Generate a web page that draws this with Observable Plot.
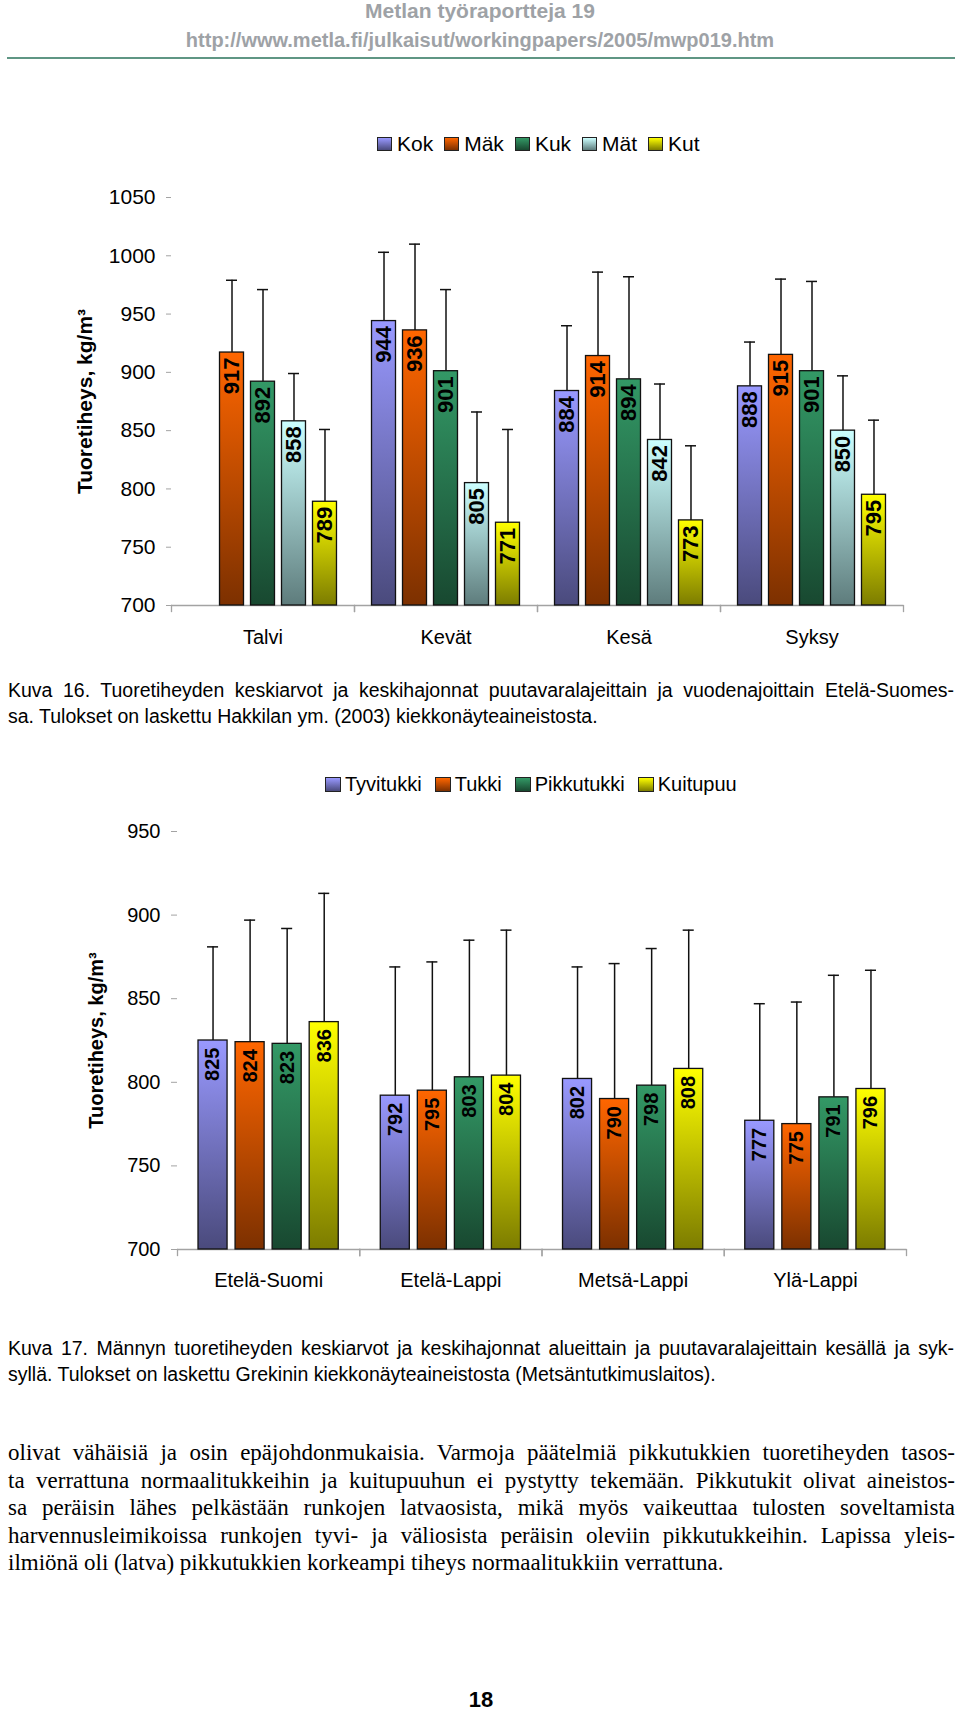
<!DOCTYPE html>
<html>
<head>
<meta charset="utf-8">
<script src="https://cdn.jsdelivr.net/npm/d3@7"></script>
<script src="https://cdn.jsdelivr.net/npm/@observablehq/plot@0.6"></script>
<style>
html, body { margin: 0; padding: 0; background: #fff; }
#page { position: relative; width: 960px; height: 1714px; overflow: hidden; font-family: "Liberation Sans", Arial, sans-serif; color: #000; }
.hdr { left: 0; width: 960px; text-align: center; font-weight: bold; color: #9ea2a6; white-space: nowrap; }
.legend { display: flex; align-items: center; white-space: nowrap; }
.legend .item { display: flex; align-items: center; }
.legend .sw { display: inline-block; border: 1px solid #222; box-sizing: border-box; }
.just { text-align: justify; text-align-last: justify; }
.left { text-align: left; }
</style>
</head>
<body>
<div id="page"></div>
<script>
// ---------- data ----------
const seasons = ["Talvi", "Kevät", "Kesä", "Syksy"];
const assortments1 = ["Kok", "Mäk", "Kuk", "Mät", "Kut"];
const kokMean = [null, 944, 884, 888];
const makMean = [917, 936, 914, 915];
const kukMean = [892, 901, 894, 901];
const matMean = [858, 805, 842, 850];
const kutMean = [789, 771, 773, 795];
const kokSd = [null, 59, 56, 38];
const makSd = [62, 74, 72, 65];
const kukSd = [79, 70, 88, 77];
const matSd = [41, 61, 48, 47];
const kutSd = [62, 80, 64, 64];
const yTicks1 = [700, 750, 800, 850, 900, 950, 1000, 1050];

const regions = ["Etelä-Suomi", "Etelä-Lappi", "Metsä-Lappi", "Ylä-Lappi"];
const assortments2 = ["Tyvitukki", "Tukki", "Pikkutukki", "Kuitupuu"];
const tyviMean = [825, 792, 802, 777];
const tukkiMean = [824, 795, 790, 775];
const pikkuMean = [823, 803, 798, 791];
const kuituMean = [836, 804, 808, 796];
const tyviSd = [56, 77, 67, 70];
const tukkiSd = [73, 77, 81, 73];
const pikkuSd = [69, 82, 82, 73];
const kuituSd = [77, 87, 83, 71];
const yTicks2 = [700, 750, 800, 850, 900, 950];

const yLabel = "Tuoretiheys, kg/m³";

// gradient colours (top -> bottom) for blue, orange, green, cyan, yellow
const gradTop = ["#9999ff", "#ff6600", "#339966", "#ccffff", "#ffff00"];
const gradBottom = ["#4a4a7c", "#7c3000", "#184830", "#5e7c7c", "#7c7c00"];
const colorIdx1 = [0, 1, 2, 3, 4];
const colorIdx2 = [0, 1, 2, 4];

// texts
const titleText = "Metlan työraportteja 19";
const urlText = "http://www.metla.fi/julkaisut/workingpapers/2005/mwp019.htm";
const caption16 = [
  "Kuva 16. Tuoretiheyden keskiarvot ja keskihajonnat puutavaralajeittain ja vuodenajoittain Etelä-Suomes-",
  "sa. Tulokset on laskettu Hakkilan ym. (2003) kiekkonäyteaineistosta."
];
const caption17 = [
  "Kuva 17. Männyn tuoretiheyden keskiarvot ja keskihajonnat alueittain ja puutavaralajeittain kesällä ja syk-",
  "syllä. Tulokset on laskettu Grekinin kiekkonäyteaineistosta (Metsäntutkimuslaitos)."
];
const bodyLines = [
  "olivat vähäisiä ja osin epäjohdonmukaisia. Varmoja päätelmiä pikkutukkien tuoretiheyden tasos-",
  "ta verrattuna normaalitukkeihin ja kuitupuuhun ei pystytty tekemään. Pikkutukit olivat aineistos-",
  "sa peräisin lähes pelkästään runkojen latvaosista, mikä myös vaikeuttaa tulosten soveltamista",
  "harvennusleimikoissa runkojen tyvi- ja väliosista peräisin oleviin pikkutukkeihin. Lapissa yleis-",
  "ilmiönä oli (latva) pikkutukkien korkeampi tiheys normaalitukkiin verrattuna."
];
const pageNumber = "18";

// ---------- tables ----------
function buildTable(groups, names, means, sds) {
  const rows = [];
  names.forEach((s, i) => {
    groups.forEach((g, j) => {
      if (means[i][j] != null) rows.push({group: g, series: s, mean: means[i][j], sd: sds[i][j]});
    });
  });
  return rows;
}
const data1 = buildTable(seasons, assortments1,
  [kokMean, makMean, kukMean, matMean, kutMean], [kokSd, makSd, kukSd, matSd, kutSd]);
const data2 = buildTable(regions, assortments2,
  [tyviMean, tukkiMean, pikkuMean, kuituMean], [tyviSd, tukkiSd, pikkuSd, kuituSd]);

// ---------- gradient defs ----------
const NS = "http://www.w3.org/2000/svg";
const defsSvg = document.createElementNS(NS, "svg");
defsSvg.setAttribute("width", "0"); defsSvg.setAttribute("height", "0");
defsSvg.style.position = "absolute";
const defs = document.createElementNS(NS, "defs");
gradTop.forEach((c, i) => {
  const lg = document.createElementNS(NS, "linearGradient");
  lg.setAttribute("id", "grad" + i);
  lg.setAttribute("x1", "0"); lg.setAttribute("y1", "0");
  lg.setAttribute("x2", "0"); lg.setAttribute("y2", "1");
  [[0, c], [1, gradBottom[i]]].forEach(([o, col]) => {
    const st = document.createElementNS(NS, "stop");
    st.setAttribute("offset", o);
    st.setAttribute("stop-color", col);
    lg.appendChild(st);
  });
  defs.appendChild(lg);
});
defsSvg.appendChild(defs);
document.body.appendChild(defsSvg);

const page = document.getElementById("page");
function place(el, css) { el.style.position = "absolute"; Object.assign(el.style, css); page.appendChild(el); return el; }

// ---------- header ----------
const t = document.createElement("div"); t.className = "hdr"; t.textContent = titleText;
place(t, {top: "0px", fontSize: "21px", lineHeight: "22px"});
const u = document.createElement("div"); u.className = "hdr"; u.textContent = urlText;
place(u, {top: "29px", fontSize: "20px", lineHeight: "22px"});
const hr = document.createElement("div");
place(hr, {top: "57px", left: "7px", width: "948px", height: "2px", background: "#5f9684"});

// ---------- legends ----------
function legend(names, idx, opts) {
  const lg = document.createElement("div"); lg.className = "legend";
  names.forEach((n, i) => {
    const it = document.createElement("div"); it.className = "item";
    if (i < names.length - 1) it.style.marginRight = opts.gap + "px";
    const sw = document.createElement("span"); sw.className = "sw";
    sw.style.width = opts.sw + "px"; sw.style.height = (opts.sw - 1) + "px";
    sw.style.marginRight = opts.inner + "px";
    sw.style.background = `linear-gradient(to bottom, ${gradTop[idx[i]]}, ${gradBottom[idx[i]]})`;
    const tx = document.createElement("span"); tx.textContent = n;
    it.appendChild(sw); it.appendChild(tx); lg.appendChild(it);
  });
  return place(lg, {left: opts.left + "px", top: opts.top + "px", height: "24px", fontSize: opts.font + "px", lineHeight: "24px"});
}
legend(assortments1, colorIdx1, {left: 377, top: 132, font: 21, sw: 15, inner: 5, gap: 11});
legend(assortments2, colorIdx2, {left: 325, top: 772, font: 20, sw: 16, inner: 4, gap: 13});

// ---------- charts ----------
function chart(o) {
  const base = o.yTicks[0];
  const innerH = o.height - o.marginTop - o.marginBottom;
  const grey = "#a3a3a3";
  return Plot.plot({
    width: 960, height: o.height,
    marginTop: o.marginTop, marginBottom: o.marginBottom, marginLeft: o.marginLeft, marginRight: o.marginRight,
    style: {fontFamily: '"Liberation Sans", Arial, sans-serif', fontSize: o.fontTick + "px", background: "transparent", overflow: "visible", color: "black"},
    fx: {domain: o.groups, padding: 0, round: false},
    x: {domain: o.series, paddingInner: o.pInner, paddingOuter: o.pOuter, round: false, axis: null},
    y: {domain: [base, o.yTicks[o.yTicks.length - 1]]},
    color: {domain: o.series, range: o.colorIdx.map(i => `url(#grad${i})`)},
    marks: [
      Plot.ruleY([base], {stroke: grey, strokeWidth: 1.3}),
      Plot.frame({anchor: "left", stroke: grey, strokeWidth: 1.3, insetTop: innerH, insetBottom: -6}),
      Plot.frame({anchor: "right", stroke: grey, strokeWidth: 1.3, insetTop: innerH, insetBottom: -6}),
      Plot.axisY({ticks: o.yTicks, tickFormat: "d", tickSize: o.tickSize, tickPadding: o.tickPadding, line: true,
        stroke: grey, fill: "black", fontSize: o.fontTick, label: null}),
      Plot.axisY({ticks: [], tickSize: 0, label: yLabel, labelAnchor: "center", labelOffset: o.labelOffset, labelArrow: "none",
        fontWeight: "bold", fontSize: o.fontLabel, fill: "black"}),
      Plot.axisFx({anchor: "bottom", tickSize: 0, tickPadding: o.fxPad, fontSize: o.fontCat, fill: "black", label: null}),
      Plot.barY(o.data, {fx: "group", x: "series", y1: base, y2: "mean", fill: "series", stroke: "#111", strokeWidth: 1.3}),
      Plot.ruleX(o.data, {fx: "group", x: "series", y1: "mean", y2: d => d.mean + d.sd, stroke: "#111", strokeWidth: 1.5}),
      Plot.tickY(o.data, {fx: "group", x: "series", y: d => d.mean + d.sd, stroke: "#111", strokeWidth: 1.5, inset: o.capInset}),
      Plot.text(o.data, {fx: "group", x: "series", y: "mean", text: d => String(d.mean), rotate: -90, textAnchor: "end",
        dy: o.valueDy, fontWeight: "bold", fontSize: o.fontValue, fill: "black"})
    ]
  });
}

const c1 = chart({
  data: data1, groups: seasons, series: assortments1, colorIdx: colorIdx1, yTicks: yTicks1,
  height: 470, marginTop: 17, marginBottom: 45, marginLeft: 171, marginRight: 57,
  pInner: 0.226, pOuter: 0.565, fontTick: 21, fontLabel: 21, fontCat: 20, fontValue: 22,
  tickSize: 5, tickPadding: 11, labelOffset: 94, fxPad: 24, valueDy: 5, capInset: 6.5
});
place(c1, {left: "0px", top: "180px"});

const c2 = chart({
  data: data2, groups: regions, series: assortments2, colorIdx: colorIdx2, yTicks: yTicks2,
  height: 500, marginTop: 31, marginBottom: 51, marginLeft: 177, marginRight: 54,
  pInner: 0.216, pOuter: 0.567, fontTick: 20, fontLabel: 20, fontCat: 20, fontValue: 20,
  tickSize: 6, tickPadding: 11, labelOffset: 89, fxPad: 23, valueDy: 7, capInset: 9
});
place(c2, {left: "0px", top: "800px"});

// ---------- captions / body ----------
function para(lines, opts) {
  const p = document.createElement("div");
  lines.forEach((ln, i) => {
    const d = document.createElement("div");
    d.textContent = ln;
    d.className = (i < lines.length - 1) ? "just" : "left";
    p.appendChild(d);
  });
  return place(p, {left: opts.left + "px", top: opts.top + "px", width: opts.width + "px",
    fontFamily: opts.family, fontSize: opts.font + "px", lineHeight: opts.lh + "px"});
}
para(caption16, {left: 8, top: 677, width: 946, family: '"Liberation Sans", Arial, sans-serif', font: 19.5, lh: 26});
para(caption17, {left: 8, top: 1335, width: 946, family: '"Liberation Sans", Arial, sans-serif', font: 19.5, lh: 26});
para(bodyLines, {left: 8, top: 1439, width: 947, family: '"Liberation Serif", "Times New Roman", serif', font: 23, lh: 27.5});

const pn = document.createElement("div"); pn.textContent = pageNumber;
place(pn, {left: "0px", width: "962px", top: "1689px", textAlign: "center", fontWeight: "bold", fontSize: "22px", lineHeight: "22px"});
</script>
</body>
</html>
